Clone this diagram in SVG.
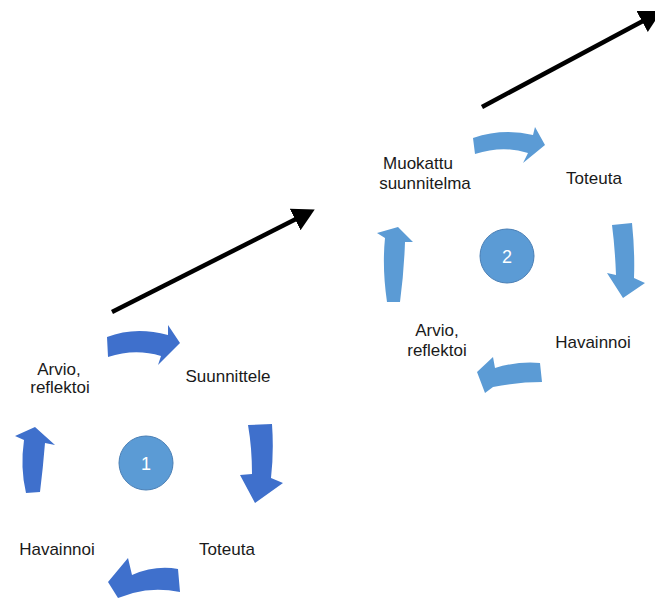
<svg xmlns="http://www.w3.org/2000/svg" width="655" height="600" viewBox="0 0 655 600">
<defs>
<marker id="head" markerUnits="userSpaceOnUse" markerWidth="24" markerHeight="26" refX="1" refY="12" orient="auto">
<path d="M0,0 L22,12 L0,24 Z" fill="#000"/>
</marker>
<style>
.lbl{font-family:"Liberation Sans",Arial,sans-serif;font-size:17px;fill:#1a1a1a;text-anchor:middle}
.num{font-family:"Liberation Sans",Arial,sans-serif;font-size:18px;fill:#fff;text-anchor:middle}
.a1{fill:#3f70cc}
.a2{fill:#5b9bd5}
.circ{fill:#5b9bd5;stroke:#4a7fb5;stroke-width:1}
.prog{stroke:#000;stroke-width:4.5;fill:none;marker-end:url(#head)}
</style>
</defs>
<rect width="655" height="600" fill="#fff"/>
<g id="connectors">
<line class="prog" x1="112" y1="312" x2="296" y2="219"/>
<line class="prog" x1="482" y1="107" x2="643" y2="21"/>
<path class="a1" d="M 107,337 Q 135,326 168,335 L 168,325 L 180,343 L 158,365 L 161,356 Q 135,348 108,357 Z"/>
<path class="a1" d="M 248,425 L 272,424 Q 274,452 271,478 L 283,483 L 255,503 L 240,475 L 252,474 Q 252,448 248,425 Z"/>
<path class="a1" d="M 108,582 L 128,558 L 132,575 Q 155,565 178,569 L 180,592 Q 155,587 133,593 L 118,598 Z"/>
<path class="a1" d="M 35,427 L 55,445 L 45,443 Q 43,468 40,492 L 26,493 Q 20,468 24,440 L 15,436 Z"/>
<path class="a2" d="M 473,138 Q 503,128 533,135 L 535,127 L 545,145 L 523,163 L 528,153 Q 503,145 475,154 Z"/>
<path class="a2" d="M 612,225 L 632,223 Q 635,252 634,278 L 645,283 L 623,298 L 607,273 L 616,275 Q 615,248 612,225 Z"/>
<path class="a2" d="M 477,372 L 493,357 L 495,368 Q 518,361 540,363 L 542,382 Q 518,382 493,387 L 485,393 Z"/>
<path class="a2" d="M 398,227 L 413,242 L 405,242 Q 404,272 400,302 L 387,302 Q 382,268 385,238 L 377,233 Z"/>
</g>
<g id="cycle1-center"><circle class="circ" cx="146" cy="463" r="27"/><text class="num" x="146" y="469.5">1</text></g>
<g id="c1-arvio"><text class="lbl" x="59" y="375">Arvio,</text><text class="lbl" x="60" y="393">reflektoi</text></g>
<g id="c1-suunnittele"><text class="lbl" x="228" y="382">Suunnittele</text></g>
<g id="c1-toteuta"><text class="lbl" x="227" y="555">Toteuta</text></g>
<g id="c1-havainnoi"><text class="lbl" x="57" y="555">Havainnoi</text></g>
<g id="cycle2-center"><circle class="circ" cx="507" cy="256" r="27"/><text class="num" x="507" y="262.5">2</text></g>
<g id="c2-muokattu"><text class="lbl" x="418" y="169">Muokattu</text><text class="lbl" x="425" y="189">suunnitelma</text></g>
<g id="c2-toteuta"><text class="lbl" x="594" y="184">Toteuta</text></g>
<g id="c2-havainnoi"><text class="lbl" x="593" y="348">Havainnoi</text></g>
<g id="c2-arvio"><text class="lbl" x="437" y="336">Arvio,</text><text class="lbl" x="437" y="356">reflektoi</text></g>
</svg>
